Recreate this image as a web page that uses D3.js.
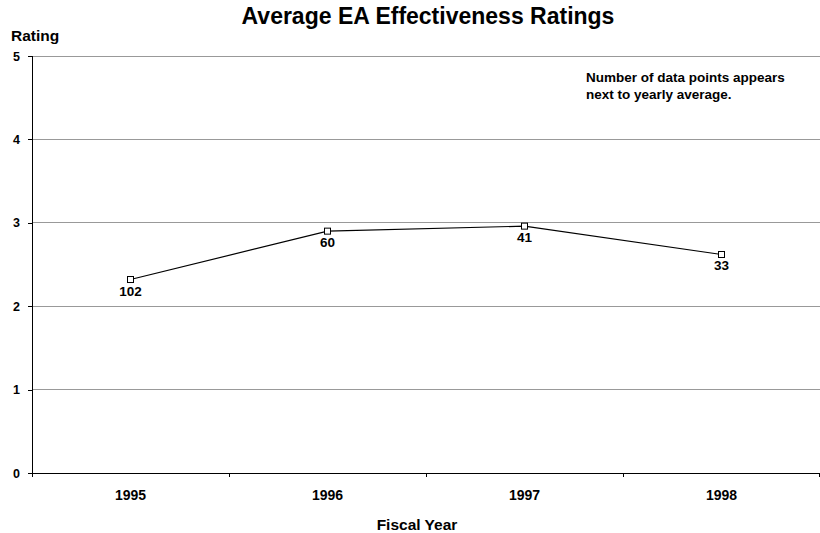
<!DOCTYPE html>
<html>
<head>
<meta charset="utf-8">
<script src="https://cdn.jsdelivr.net/npm/d3@7"></script>
<style>
  html, body { margin: 0; padding: 0; background: #fff; }
  svg { display: block; font-family: Arial, "Liberation Sans", sans-serif; }
</style>
</head>
<body>
<svg id="chart" width="820" height="533"></svg>
<script>
// Fiscal years and average ratings, with the number of data points per year
const years = ["1995", "1996", "1997", "1998"];
const ratings = [2.32, 2.90, 2.96, 2.62];
const counts = [102, 60, 41, 33];
const yTicks = [0, 1, 2, 3, 4, 5];

const svg = d3.select("#chart");
const margin = { left: 32, right: 0, top: 56, bottom: 60 };
const W = 820, H = 533;

const x = d3.scaleBand().domain(years).range([margin.left, W - margin.right]);
const y = d3.scaleLinear().domain([0, 5]).range([H - margin.bottom, margin.top]);

// horizontal gridlines
svg.append("g")
  .selectAll("line")
  .data(yTicks.filter(d => d > 0))
  .join("line")
  .attr("x1", margin.left).attr("x2", W - margin.right)
  .attr("y1", d => y(d)).attr("y2", d => y(d))
  .attr("stroke", "#999").attr("stroke-width", 1)
  .attr("shape-rendering", "crispEdges");

// y axis
const yAxis = svg.append("g")
  .attr("transform", `translate(${margin.left},0)`)
  .call(d3.axisLeft(y).tickValues(yTicks).tickSize(4).tickPadding(8).tickFormat(d3.format("d")));
yAxis.select(".domain").attr("stroke", "#000").attr("shape-rendering", "crispEdges");
yAxis.selectAll(".tick line").attr("stroke", "#000").attr("shape-rendering", "crispEdges");
yAxis.selectAll("text").attr("font-size", 12.5).attr("font-weight", "bold").attr("fill", "#000")
  .attr("font-family", "Arial, 'Liberation Sans', sans-serif");

// x axis: ticks between categories
const xAxisG = svg.append("g").attr("transform", `translate(0,${y(0)})`);
const bounds = years.map(d => x(d)).concat([x(years[years.length - 1]) + x.bandwidth()]);
xAxisG.append("line")
  .attr("x1", margin.left).attr("x2", W - margin.right)
  .attr("y1", 0).attr("y2", 0)
  .attr("stroke", "#000").attr("shape-rendering", "crispEdges");
xAxisG.selectAll("line.tk")
  .data(bounds)
  .join("line").attr("class", "tk")
  .attr("x1", d => Math.min(d, W - 0.5)).attr("x2", d => Math.min(d, W - 0.5))
  .attr("y1", 0).attr("y2", 4)
  .attr("stroke", "#000").attr("shape-rendering", "crispEdges");
xAxisG.selectAll("text")
  .data(years)
  .join("text")
  .attr("x", d => x(d) + x.bandwidth() / 2)
  .attr("y", 26.5)
  .attr("text-anchor", "middle")
  .attr("font-size", 14).attr("font-weight", "bold")
  .text(d => d);

// line
const pts = years.map((d, i) => ({ year: d, v: ratings[i], n: counts[i] }));
const cx = d => x(d.year) + x.bandwidth() / 2;
svg.append("path")
  .datum(pts)
  .attr("fill", "none").attr("stroke", "#000").attr("stroke-width", 1.2)
  .attr("d", d3.line().x(cx).y(d => y(d.v)));

// square markers
svg.selectAll("rect.m")
  .data(pts)
  .join("rect").attr("class", "m")
  .attr("x", d => cx(d) - 3).attr("y", d => y(d.v) - 3)
  .attr("width", 6).attr("height", 6)
  .attr("fill", "#fff").attr("stroke", "#000").attr("stroke-width", 1);

// data point counts below markers
svg.selectAll("text.cnt")
  .data(pts)
  .join("text").attr("class", "cnt")
  .attr("x", d => cx(d))
  .attr("y", d => y(d.v) + 16)
  .attr("text-anchor", "middle")
  .attr("font-size", 13.5).attr("font-weight", "bold")
  .text(d => d.n);

// titles
svg.append("text")
  .attr("x", 428).attr("y", 24)
  .attr("text-anchor", "middle")
  .attr("font-size", 23).attr("font-weight", "bold")
  .text("Average EA Effectiveness Ratings");

svg.append("text")
  .attr("x", 11).attr("y", 41)
  .attr("font-size", 15.5).attr("font-weight", "bold")
  .text("Rating");

svg.append("text")
  .attr("x", 417).attr("y", 530)
  .attr("text-anchor", "middle")
  .attr("font-size", 15.5).attr("font-weight", "bold")
  .text("Fiscal Year");

// note
const note = svg.append("text")
  .attr("font-size", 13.5).attr("font-weight", "bold");
note.append("tspan").attr("x", 586).attr("y", 82).text("Number of data points appears");
note.append("tspan").attr("x", 586).attr("y", 99).text("next to yearly average.");
</script>
</body>
</html>
